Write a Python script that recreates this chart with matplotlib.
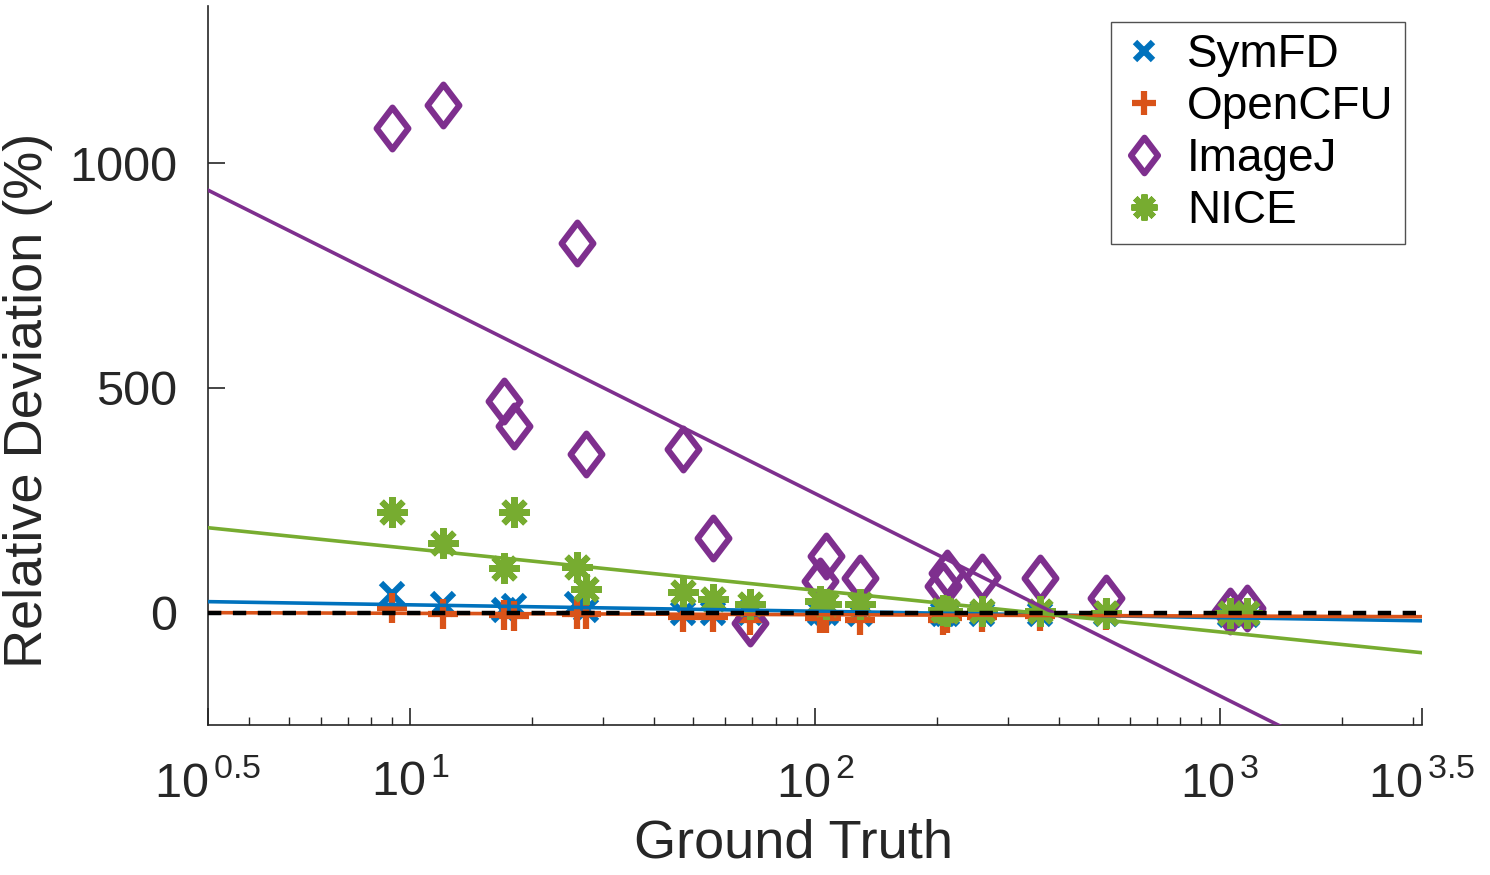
import numpy as np
import matplotlib
matplotlib.use("Agg")
import matplotlib.pyplot as plt
from matplotlib.path import Path

plt.rcParams['font.family'] = ['Liberation Sans', 'DejaVu Sans']
plt.rcParams['mathtext.fontset'] = 'custom'
plt.rcParams['mathtext.rm'] = 'Liberation Sans'
plt.rcParams['mathtext.it'] = 'Liberation Sans'

# ground truth counts (shared by all methods)
ground_truth = [9.0, 12.05, 17.0, 18.0, 25.8, 27.2, 47.2, 56.0, 69.1, 102.8,
                106.4, 129.0, 207.0, 212.0, 258.0, 360.0, 524.0, 1062.0, 1167.0]

# relative deviation (%) per method
symfd = [42, 20, 5, 15, 20, 5, 0, 0, 0, 0, 0, -2, -2, -2, -3, -3, -3, -5, -5]
opencfu = [10, -2, -5, -7, -2, -3, -10, -10, -17, -13, -13, -17, -17, -12, -10, -8, -5, -5, -5]
imagej = [1078, 1129, 472, 416, 822, 354, 365, 167, -24, 71,
          127, 76, 60, 89, 80, 76, 33, 4, 11]
nice = [223, 156, 100, 223, 102, 53, 45, 31, 20, 27,
        20, 20, 6, 4, 4, 4, 0, 0, 0]

# fitted trend lines: deviation = intercept + slope * log10(ground truth)
fit_intercept = {'SymFD': 31.6, 'OpenCFU': 1.5, 'ImageJ': 1165.0, 'NICE': 235.3}
fit_slope = {'SymFD': -14.2, 'OpenCFU': -3.0, 'ImageJ': -450.0, 'NICE': -92.7}

blue = '#0072BD'
orange = '#D95319'
purple = '#7E2F8E'
green = '#77AC30'

# MATLAB-like diamond (taller than wide)
diamond = Path([(0, 1), (0.76, 0), (0, -1), (-0.76, 0), (0, 1)],
               [Path.MOVETO, Path.LINETO, Path.LINETO, Path.LINETO, Path.CLOSEPOLY])

fig = plt.figure(figsize=(14.9, 8.75), dpi=100)
ax = fig.add_axes([0.1396, 0.1714, 0.8148, 0.8219])

x = np.array(ground_truth)
ax.plot(x, symfd, 'x', color=blue, ms=16, mew=4.5, label='SymFD', zorder=3)
ax.plot(x, opencfu, '+', color=orange, ms=21, mew=4.5, label='OpenCFU', zorder=3)
ax.plot(x, imagej, linestyle='none', marker=diamond, ms=30, mew=4.5,
        mfc='none', mec=purple, label='ImageJ', zorder=3)
ax.plot(x, nice, linestyle='none', marker=(8, 2, 0), color=green, ms=22, mew=4.5,
        label='NICE', zorder=4)

xl = np.array([10 ** 0.5, 10 ** 3.5])
for name, col in [('SymFD', blue), ('OpenCFU', orange), ('ImageJ', purple), ('NICE', green)]:
    ax.plot(xl, fit_intercept[name] + fit_slope[name] * np.log10(xl),
            color=col, lw=2.6, zorder=5)
ax.plot(xl, [0, 0], color='black', lw=3.2, ls=(0, (3, 2.6)), zorder=6)

ax.set_xscale('log')
ax.set_xlim(10 ** 0.5, 10 ** 3.5)
ax.set_ylim(-250, 1350)
ax.set_xticks([10 ** 0.5, 10, 100, 1000, 10 ** 3.5])
ax.set_xticklabels([r'$10^{\,0.5}$', r'$10^{\,1}$', r'$10^{\,2}$', r'$10^{\,3}$', r'$10^{\,3.5}$'])
ax.set_yticks([0, 500, 1000])
ax.tick_params(axis='both', which='major', direction='in', length=12, width=1.2,
               labelsize=35, colors='#262626')
ax.tick_params(axis='x', which='major', pad=26)
ax.tick_params(axis='y', which='major', pad=22)
ax.tick_params(axis='x', which='minor', direction='in', length=6, width=1.0, colors='#262626')
ax.tick_params(axis='y', which='minor', left=False)

for s in ['top', 'right']:
    ax.spines[s].set_visible(False)
for s in ['left', 'bottom']:
    ax.spines[s].set_color('#262626')
    ax.spines[s].set_linewidth(1.2)

ax.set_xlabel('Ground Truth', fontsize=39, color='#262626')
ax.set_ylabel('Relative Deviation (%)', fontsize=39, color='#262626')
ax.xaxis.set_label_coords(0.482, -0.13)
ax.yaxis.set_label_coords(-0.128, 0.452)

leg = ax.legend(loc='upper right', bbox_to_anchor=(1405 / 1490, 1 - 22 / 875),
                bbox_transform=fig.transFigure, fontsize=33, frameon=True,
                fancybox=False, handlelength=0.9, handletextpad=0.5,
                borderpad=0.25, labelspacing=0.17, borderaxespad=0)
leg.get_frame().set_edgecolor('#262626')
leg.get_frame().set_linewidth(1.0)
for h in leg.legend_handles:
    h.set_markersize(h.get_markersize() * 0.85)

fig.savefig('out.png', dpi=100)
